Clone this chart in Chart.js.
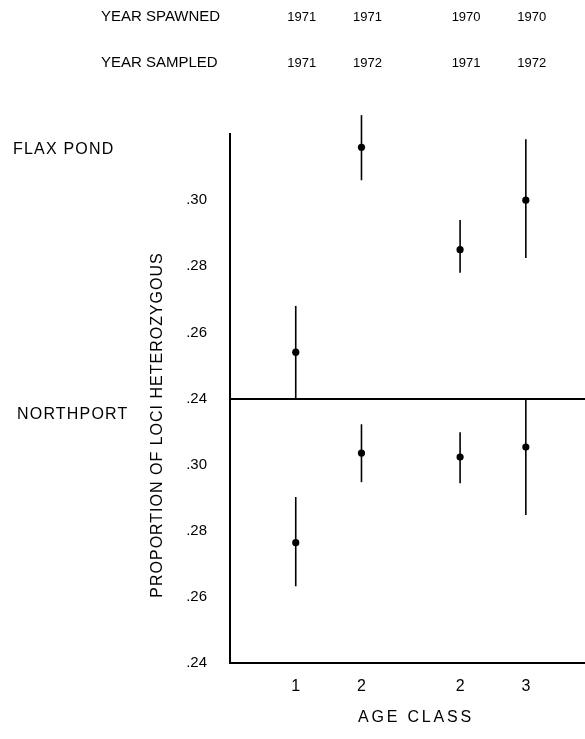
<!DOCTYPE html>
<html>
<head>
<meta charset="utf-8">
<script src="https://cdn.jsdelivr.net/npm/chart.js@4.4.1/dist/chart.umd.min.js"></script>
<style>
  body { margin: 0; background: #fff; }
  #wrap { width: 585px; height: 739px; }
</style>
</head>
<body>
<div id="wrap"><canvas id="hetChart" width="585" height="739"></canvas></div>
<script>
// Age class groups along the x axis
const ageLabels = ['1', '2', '2', '3'];
const xPos = [1, 2, 3.5, 4.5];
const yearSpawned = ['1971', '1971', '1970', '1970'];
const yearSampled = ['1971', '1972', '1971', '1972'];

// Flax Pond (top panel)
const flaxMean = [0.254, 0.316, 0.285, 0.300];
const flaxLow  = [0.240, 0.306, 0.278, 0.2825];
const flaxHigh = [0.268, 0.3257, 0.294, 0.3184];

// Northport (bottom panel)
const northMean = [0.2764, 0.3035, 0.3023, 0.3053];
const northLow  = [0.2632, 0.2947, 0.2944, 0.2848];
const northHigh = [0.2902, 0.3122, 0.3098, 0.320];

const yTicks = [0.24, 0.26, 0.28, 0.30];

const FONT = '"Liberation Sans", Arial, sans-serif';

const fmt = v => '.' + Math.round(v * 100);

function yScale(isTop) {
  return {
    type: 'linear',
    position: 'left',
    stack: 'panels',
    stackWeight: 1,
    weight: isTop ? 1 : 0,
    min: 0.24,
    max: 0.32,
    afterBuildTicks: s => { s.ticks = yTicks.map(v => ({ value: v })); },
    afterFit: s => { s.width = 60; s.paddingTop = 0; s.paddingBottom = 0; },
    ticks: {
      callback: v => fmt(v),
      color: '#000',
      padding: 23,
      font: { family: FONT, size: 15 }
    },
    grid: {
      drawTicks: false,
      color: ctx => (isTop && ctx.tick && ctx.tick.value === 0.24) ? '#000' : 'rgba(0,0,0,0)',
      lineWidth: 2
    },
    border: { display: true, color: '#000', width: 2 }
  };
}

// error bars (vertical lines) behind the dots
const errorBars = {
  id: 'errorBars',
  beforeDatasetsDraw(chart) {
    const ctx = chart.ctx;
    const x = chart.scales.x;
    const panels = [
      [chart.scales.yTop, flaxLow, flaxHigh],
      [chart.scales.yBot, northLow, northHigh]
    ];
    ctx.save();
    ctx.strokeStyle = '#000';
    ctx.lineWidth = 1.6;
    panels.forEach(([ys, lo, hi]) => {
      xPos.forEach((v, i) => {
        const px = x.getPixelForValue(v);
        ctx.beginPath();
        ctx.moveTo(px, ys.getPixelForValue(lo[i]));
        ctx.lineTo(px, ys.getPixelForValue(hi[i]));
        ctx.stroke();
      });
    });
    ctx.restore();
  }
};

// header rows, panel names and axis titles
const labels = {
  id: 'labels',
  afterDraw(chart) {
    const ctx = chart.ctx;
    const x = chart.scales.x;
    ctx.save();
    ctx.fillStyle = '#000';
    ctx.textBaseline = 'middle';

    ctx.font = '15px ' + FONT;
    ctx.textAlign = 'left';
    ctx.fillText('YEAR SPAWNED', 101, 17);
    ctx.fillText('YEAR SAMPLED', 101, 63);

    ctx.font = '13px ' + FONT;
    ctx.textAlign = 'center';
    xPos.forEach((v, i) => {
      const px = x.getPixelForValue(v) + 6;
      ctx.fillText(yearSpawned[i], px, 17);
      ctx.fillText(yearSampled[i], px, 63);
    });

    ctx.font = '16px ' + FONT;
    ctx.letterSpacing = '1.2px';
    ctx.textAlign = 'left';
    ctx.fillText('FLAX POND', 13, 150);
    ctx.fillText('NORTHPORT', 17, 415);

    ctx.letterSpacing = '2.8px';
    ctx.textAlign = 'center';
    ctx.fillText('AGE CLASS', 416, 718);

    ctx.letterSpacing = '1px';
    ctx.translate(158, 425);
    ctx.rotate(-Math.PI / 2);
    ctx.fillText('PROPORTION OF LOCI HETEROZYGOUS', 0, 0);
    ctx.restore();
  }
};

new Chart(document.getElementById('hetChart'), {
  type: 'scatter',
  data: {
    datasets: [
      {
        label: 'Flax Pond',
        data: xPos.map((v, i) => ({ x: v, y: flaxMean[i] })),
        yAxisID: 'yTop',
        pointRadius: 3.6,
        pointHoverRadius: 3.6,
        pointBorderWidth: 0,
        backgroundColor: '#000'
      },
      {
        label: 'Northport',
        data: xPos.map((v, i) => ({ x: v, y: northMean[i] })),
        yAxisID: 'yBot',
        pointRadius: 3.6,
        pointHoverRadius: 3.6,
        pointBorderWidth: 0,
        backgroundColor: '#000'
      }
    ]
  },
  options: {
    responsive: false,
    devicePixelRatio: 1,
    animation: false,
    layout: { autoPadding: false, padding: { left: 170, top: 134, right: 0, bottom: 36 } },
    plugins: {
      legend: { display: false },
      tooltip: { enabled: false }
    },
    scales: {
      x: {
        type: 'linear',
        min: 0,
        max: 5.4,
        afterBuildTicks: s => { s.ticks = xPos.map(v => ({ value: v })); },
        afterFit: s => { s.height = 40; s.paddingLeft = 0; s.paddingRight = 0; },
        ticks: {
          callback: (v, i) => ageLabels[i],
          color: '#000',
          padding: 14,
          autoSkip: false,
          maxRotation: 0,
          font: { family: FONT, size: 16 }
        },
        grid: { display: false, drawTicks: false },
        border: { display: true, color: '#000', width: 2 }
      },
      yTop: yScale(true),
      yBot: yScale(false)
    }
  },
  plugins: [errorBars, labels]
});
</script>
</body>
</html>
